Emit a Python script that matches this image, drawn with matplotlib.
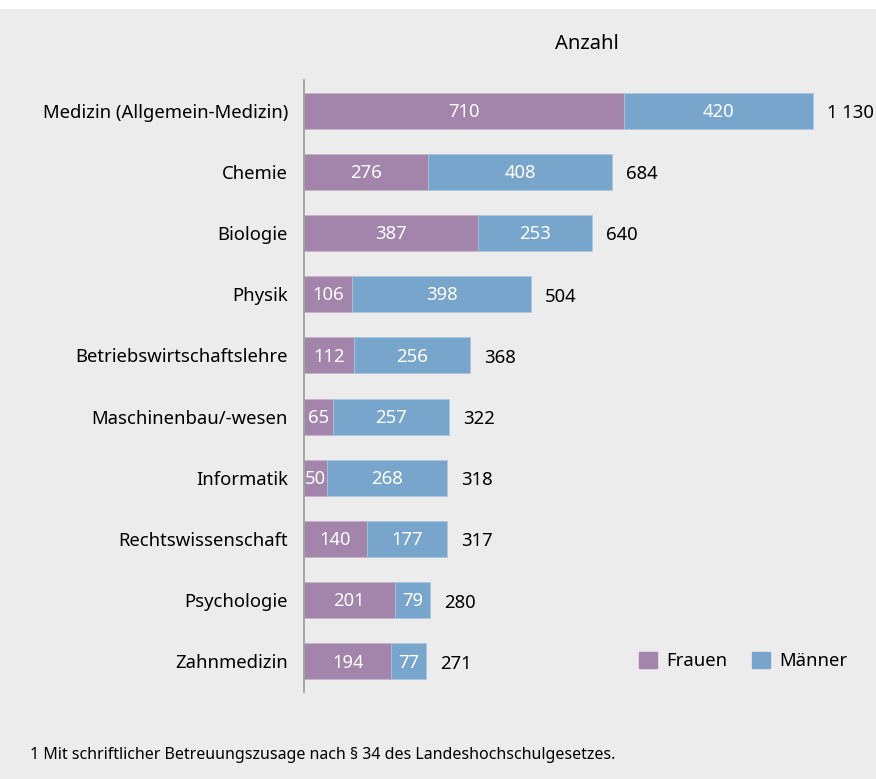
import numpy as np
from matplotlib import pyplot as plt
from matplotlib.patches import Rectangle

categories = ["Medizin (Allgemein-Medizin)", "Chemie", "Biologie", "Physik",
              "Betriebswirtschaftslehre", "Maschinenbau/-wesen", "Informatik",
              "Rechtswissenschaft", "Psychologie", "Zahnmedizin"]
frauen = [710, 276, 387, 106, 112, 65, 50, 140, 201, 194]
maenner = [420, 408, 253, 398, 256, 257, 268, 177, 79, 77]
totals = ["1 130", "684", "640", "504", "368", "322", "318", "317", "280", "271"]

col_f = "#a384aa"
col_m = "#78a5cb"
bg = "#ececec"
fs = 13.3

plt.rcParams["font.family"] = ["Noto Sans", "DejaVu Sans"]

fig = plt.figure(figsize=(8.76, 7.79), dpi=100)
fig.patch.set_facecolor(bg)
# white strip at the top
fig.add_artist(Rectangle((0, 1 - 9 / 779), 1, 9 / 779, transform=fig.transFigure,
                         facecolor="white", edgecolor="none"))

ax = fig.add_axes([304 / 876, 1 - 692 / 779, (876 - 304) / 876, 612 / 779])
ax.set_facecolor(bg)

y = np.arange(len(categories))
ax.barh(y, frauen, height=0.59, color=col_f, edgecolor="#c6b3ca", linewidth=0.5)
ax.barh(y, maenner, left=frauen, height=0.59, color=col_m, edgecolor="#a9c6de", linewidth=0.5)

for i in range(len(categories)):
    ax.text(frauen[i] / 2, y[i] + 0.02, str(frauen[i]), ha="center", va="center",
            color="white", fontsize=fs)
    ax.text(frauen[i] + maenner[i] / 2, y[i] + 0.02, str(maenner[i]), ha="center", va="center",
            color="white", fontsize=fs)
    ax.text(frauen[i] + maenner[i] + 31, y[i] + 0.04, totals[i], ha="left", va="center",
            color="black", fontsize=fs)

ax.set_xlim(0, 1269)
ax.set_ylim(len(categories) - 0.5, -0.5)
ax.set_yticks(y)
ax.set_yticklabels(categories, fontsize=fs)
ax.tick_params(axis="y", length=0, pad=11.5)
ax.set_xticks([])
for s in ["top", "right", "bottom"]:
    ax.spines[s].set_visible(False)
ax.spines["left"].set_color("#9a9a9a")
ax.spines["left"].set_linewidth(1.2)

fig.text(587 / 876, 1 - 44 / 779, "Anzahl", ha="center", va="center", fontsize=14.5)

# legend
ax.legend(handles=[Rectangle((0, 0), 1, 1, color=col_f), Rectangle((0, 0), 1, 1, color=col_m)],
          labels=["Frauen", "Männer"], loc="center right", ncol=2, frameon=False,
          bbox_to_anchor=(1 - 21 / 572, (692 - 661) / 612), fontsize=fs,
          handlelength=1.0, handleheight=1.0, handletextpad=0.5, columnspacing=1.3,
          borderaxespad=0)

fig.text(30 / 876, 1 - 755 / 779,
         "1 Mit schriftlicher Betreuungszusage nach § 34 des Landeshochschulgesetzes.",
         ha="left", va="center", fontsize=11.5)

fig.savefig("out.png", dpi=100, facecolor=bg)
